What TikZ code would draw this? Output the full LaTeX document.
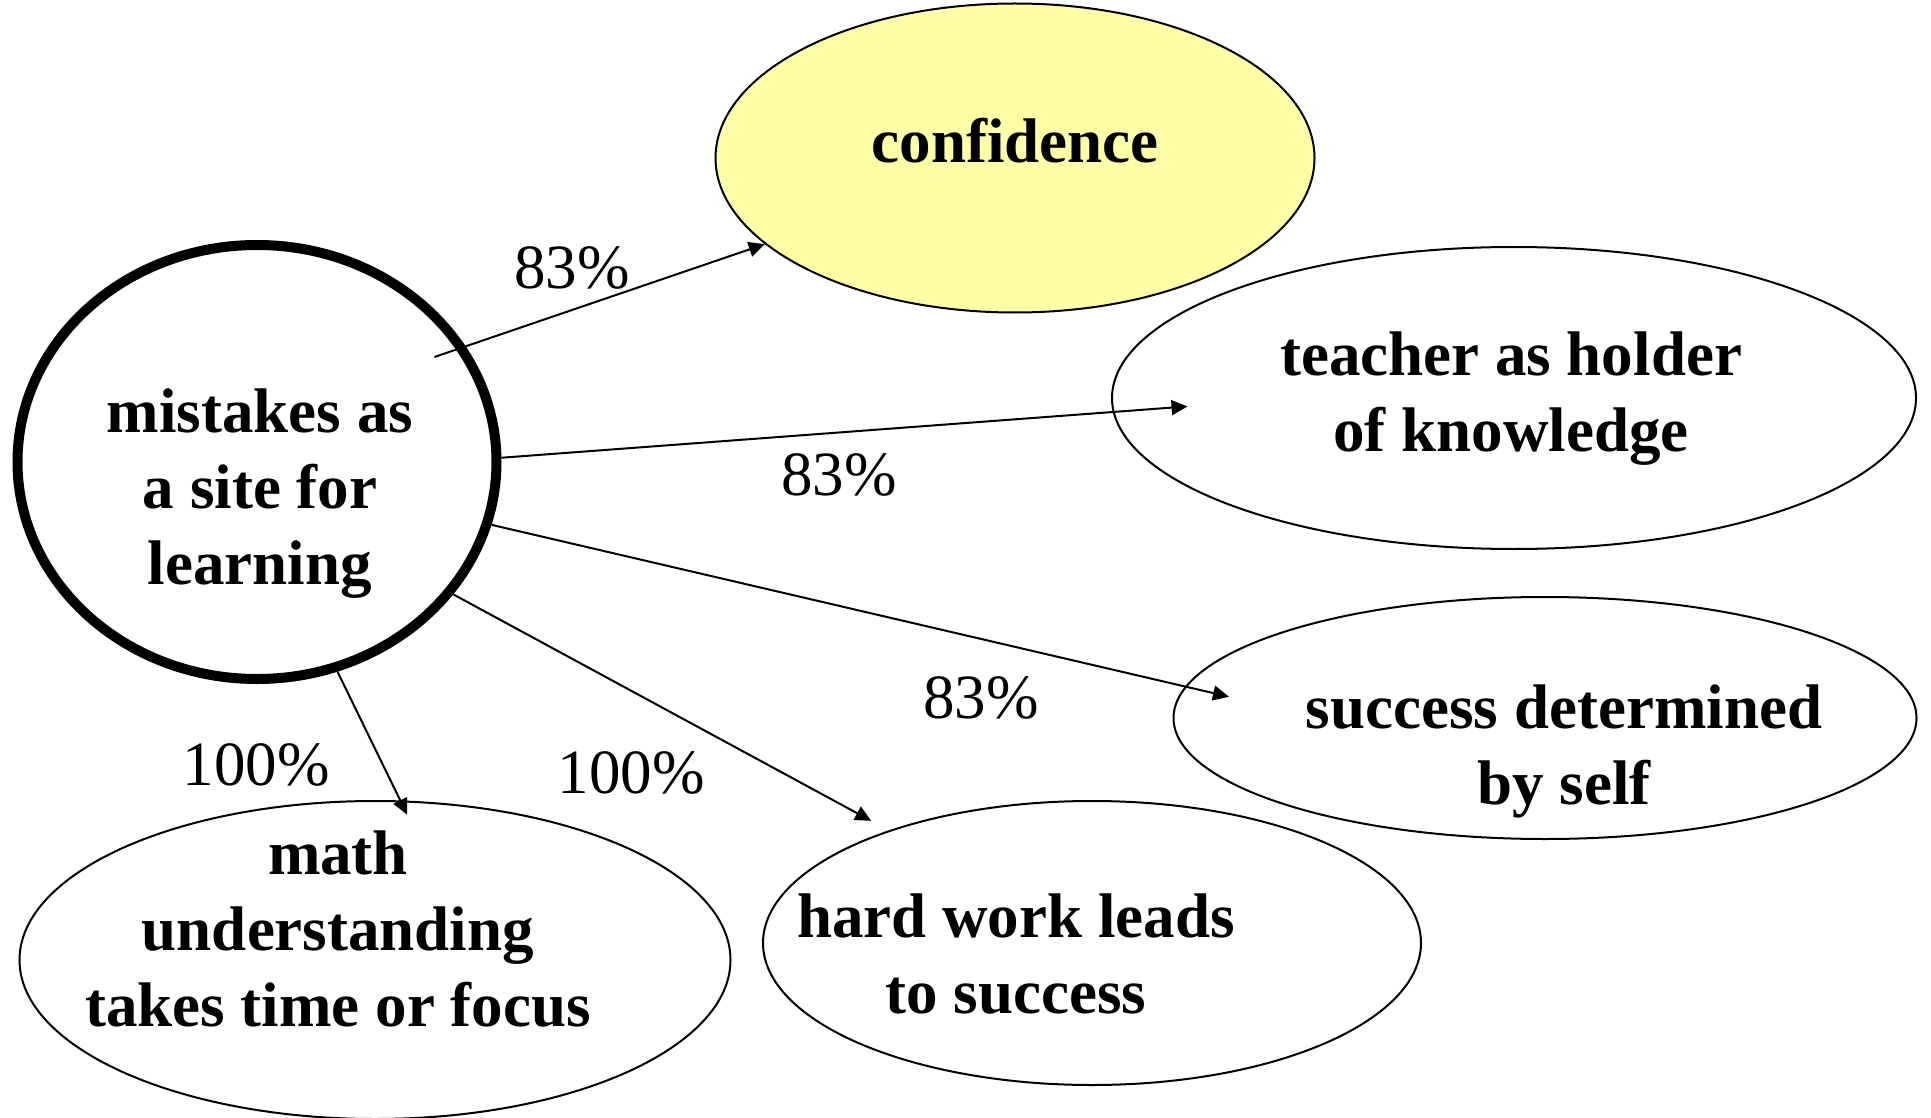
\documentclass[tikz,border=0pt]{standalone}
\usepackage{fontspec}
\setmainfont{Liberation Serif}
\usetikzlibrary{shapes.geometric,arrows.meta}
\definecolor{confyellow}{HTML}{FFFFA8}

\begin{document}
\begin{tikzpicture}[x=1pt,y=-1pt,
  bubble/.style={draw, ellipse, line width=2pt, inner sep=0pt},
  bubbletext/.style={font=\fontsize{63}{76}\selectfont\bfseries, align=center, anchor=base, inner sep=0pt},
  pct/.style={font=\fontsize{63}{76}\selectfont, anchor=base, inner sep=0pt},
  link/.style={line width=2pt, -{Triangle[length=16pt,width=15pt]}}]
  %%%%% START %%%%%
  \useasboundingbox (0,0) rectangle (1931,1118);

  % bubbles
  \node[bubble, line width=10pt, minimum width=479pt, minimum height=434pt] (hub) at (257,462) {};
  \node[bubble, fill=confyellow, minimum width=599pt, minimum height=309pt] (conf) at (1015,158) {};
  \node[bubble, minimum width=804pt, minimum height=302pt] (teach) at (1514,398) {};
  \node[bubble, minimum width=743pt, minimum height=242pt] (succ) at (1545,718) {};
  \node[bubble, minimum width=711pt, minimum height=318pt] (mathu) at (375,960) {};
  \node[bubble, minimum width=658pt, minimum height=284pt] (hard) at (1092,943) {};

  % texts (anchored at the last line)
  \node[bubbletext] (hubtxt) at (260,584) {mistakes as\\a site for\\learning};
  \node[bubbletext] (conftxt) at (1015,163) {confidence};
  \node[bubbletext] (teachtxt) at (1511,451) {teacher as holder\\of knowledge};
  \node[bubbletext] (succtxt) at (1564,804) {success determined\\by self};
  \node[bubbletext] (mathtxt) at (338,1026) {math\\understanding\\takes time or focus};
  \node[bubbletext] (hardtxt) at (1016,1013) {hard work leads\\to success};

  % links
  \draw[link, shorten <=-33pt] (hub.29) -- (conf.199);
  \draw[link, shorten >=-75pt] (hub.1) -- (teach.182);
  \draw[link, shorten >=-45pt] (hub.-15) -- (succ.175);
  \draw[link, shorten >=20pt] (hub.-34) -- (hard.151);
  \draw[link, shorten >=-16pt] (hub.-69) -- (mathu.81);

  % percentages
  \node[pct] (p1) at (572,288) {83\%};
  \node[pct] (p2) at (839,495) {83\%};
  \node[pct] (p3) at (981,718) {83\%};
  \node[pct] (p4) at (256,785) {100\%};
  \node[pct] (p5) at (631,793) {100\%};
  %%%%% END %%%%%
\end{tikzpicture}
\end{document}
